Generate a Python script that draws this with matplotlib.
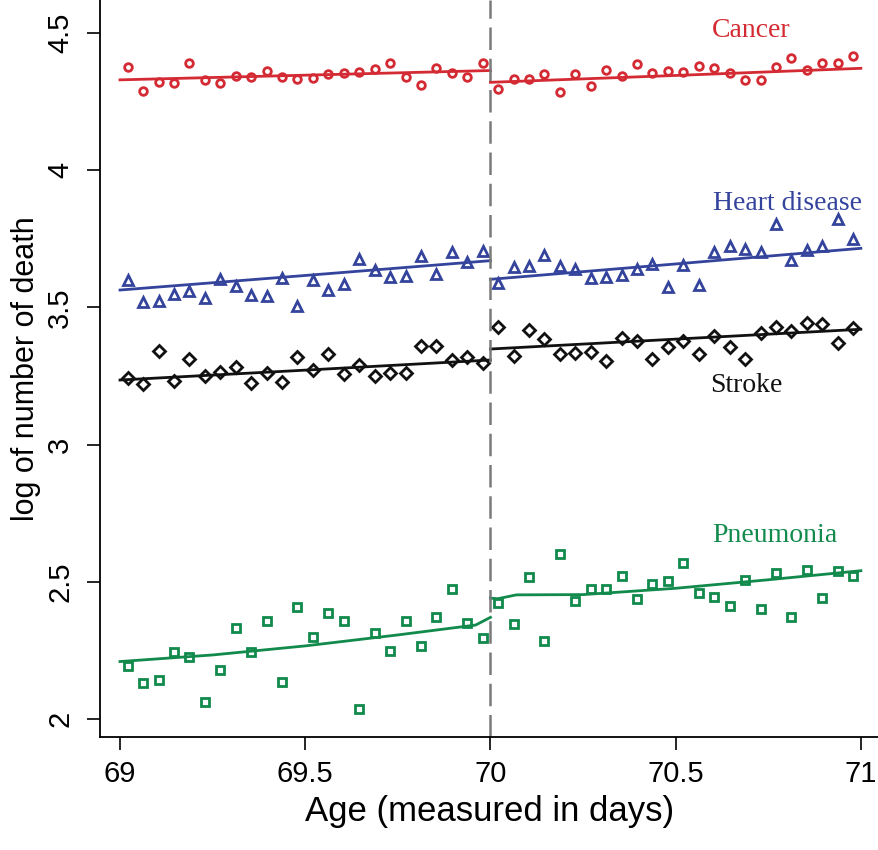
import numpy as np
import matplotlib
matplotlib.use("Agg")
import matplotlib.pyplot as plt

# monthly bins, 24 per year of age, on each side of the cutoff at 70
age = np.arange(69 + 1 / 48, 71, 1 / 24)

cancer = [4.375, 4.289, 4.322, 4.319, 4.392, 4.329, 4.319, 4.343, 4.338, 4.362, 4.338, 4.332,
          4.337, 4.349, 4.353, 4.359, 4.368, 4.392, 4.341, 4.310, 4.371, 4.353, 4.338, 4.389,
          4.296, 4.331, 4.331, 4.351, 4.284, 4.351, 4.308, 4.365, 4.343, 4.387, 4.353, 4.362,
          4.357, 4.380, 4.371, 4.355, 4.329, 4.329, 4.375, 4.408, 4.365, 4.389, 4.392, 4.416]
heart = [3.600, 3.519, 3.523, 3.549, 3.560, 3.535, 3.603, 3.578, 3.545, 3.543, 3.608, 3.506,
         3.600, 3.563, 3.584, 3.676, 3.636, 3.612, 3.614, 3.687, 3.621, 3.703, 3.664, 3.706,
         3.590, 3.648, 3.652, 3.691, 3.652, 3.639, 3.608, 3.612, 3.618, 3.639, 3.657, 3.573,
         3.655, 3.582, 3.703, 3.725, 3.712, 3.703, 3.804, 3.673, 3.709, 3.725, 3.821, 3.748]
stroke = [3.244, 3.221, 3.342, 3.233, 3.311, 3.248, 3.266, 3.282, 3.223, 3.262, 3.227, 3.318,
          3.272, 3.329, 3.257, 3.288, 3.248, 3.260, 3.260, 3.360, 3.360, 3.308, 3.320, 3.298,
          3.430, 3.323, 3.418, 3.385, 3.330, 3.335, 3.336, 3.305, 3.387, 3.378, 3.312, 3.357,
          3.379, 3.330, 3.396, 3.357, 3.312, 3.408, 3.430, 3.415, 3.442, 3.438, 3.369, 3.426]
pneumonia = [2.191, 2.132, 2.140, 2.243, 2.225, 2.061, 2.179, 2.330, 2.245, 2.355, 2.136, 2.409,
             2.300, 2.385, 2.355, 2.036, 2.312, 2.249, 2.355, 2.267, 2.373, 2.474, 2.349, 2.296,
             2.424, 2.346, 2.516, 2.285, 2.601, 2.430, 2.474, 2.473, 2.522, 2.437, 2.491, 2.503,
             2.567, 2.458, 2.446, 2.412, 2.506, 2.400, 2.531, 2.373, 2.543, 2.440, 2.540, 2.522]

# fitted curves, read at a few knots on each side of 70
fit_x_left = [69.0, 69.5, 70.0]
fit_x_right = [70.0, 70.5, 71.0]
cancer_fit_left = [4.329, 4.346, 4.363]
cancer_fit_right = [4.320, 4.345, 4.371]
heart_fit_left = [3.563, 3.616, 3.670]
heart_fit_right = [3.602, 3.658, 3.715]
stroke_fit_left = [3.235, 3.271, 3.308]
stroke_fit_right = [3.348, 3.384, 3.420]
pneu_fit_x_left = [69.0, 69.25, 69.5, 69.75, 69.96, 70.0]
pneu_fit_left = [2.209, 2.233, 2.266, 2.306, 2.342, 2.370]
pneu_fit_x_right = [70.0, 70.02, 70.07, 70.25, 70.5, 70.75, 71.0]
pneu_fit_right = [2.440, 2.438, 2.452, 2.453, 2.476, 2.507, 2.540]

RED = "#d42a33"
BLUE = "#34449c"
BLACK = "#111111"
GREEN = "#118a4c"

series = [
    ("Cancer", cancer, "o", 5.5, RED, (fit_x_left, cancer_fit_left), (fit_x_right, cancer_fit_right), (70.703, 4.508)),
    ("Heart disease", heart, "^", 7, BLUE, (fit_x_left, heart_fit_left), (fit_x_right, heart_fit_right), (70.803, 3.880)),
    ("Stroke", stroke, "D", 6, BLACK, (fit_x_left, stroke_fit_left), (fit_x_right, stroke_fit_right), (70.690, 3.214)),
    ("Pneumonia", pneumonia, "s", 5.5, GREEN, (pneu_fit_x_left, pneu_fit_left), (pneu_fit_x_right, pneu_fit_right), (70.768, 2.667)),
]

plt.rcParams['font.family'] = ['Liberation Sans', 'DejaVu Sans']

fig = plt.figure(figsize=(8.79, 8.5), dpi=100)
ax = fig.add_axes([100 / 879, 113 / 850, 779 / 879, 737 / 850])

for name, vals, marker, ms, color, left, right, lab in series:
    ax.plot(age, vals, linestyle="none", marker=marker, markersize=ms,
            markerfacecolor="none", markeredgecolor=color, markeredgewidth=2)
    ax.plot(left[0], left[1], color=color, lw=2)
    ax.plot(right[0], right[1], color=color, lw=2)
    ax.text(lab[0], lab[1], name, color=color, ha="center", va="center",
            fontsize=20, family=["Liberation Serif", "DejaVu Serif"])

ax.axvline(70, color="#7a7a7a", lw=1.8, dashes=(9, 3.5))

ax.set_xlim(68.946, 71.049)
ax.set_ylim(1.934, 4.620)
ax.set_xticks([69, 69.5, 70, 70.5, 71])
ax.set_xticklabels(["69", "69.5", "70", "70.5", "71"])
ax.set_yticks([2, 2.5, 3, 3.5, 4, 4.5])
ax.set_yticklabels(["2", "2.5", "3", "3.5", "4", "4.5"], rotation=90, va="center")
ax.tick_params(axis="both", direction="out", length=9.5, width=1.2, labelsize=21, pad=7)
ax.tick_params(axis="y", pad=9)

for side in ["top", "right"]:
    ax.spines[side].set_visible(False)
for side in ["left", "bottom"]:
    ax.spines[side].set_linewidth(1.3)

ax.set_xlabel("Age (measured in days)", fontsize=25, labelpad=5)
ax.set_ylabel("log of number of death", fontsize=22, labelpad=4)

fig.savefig("out.png", dpi=100)
